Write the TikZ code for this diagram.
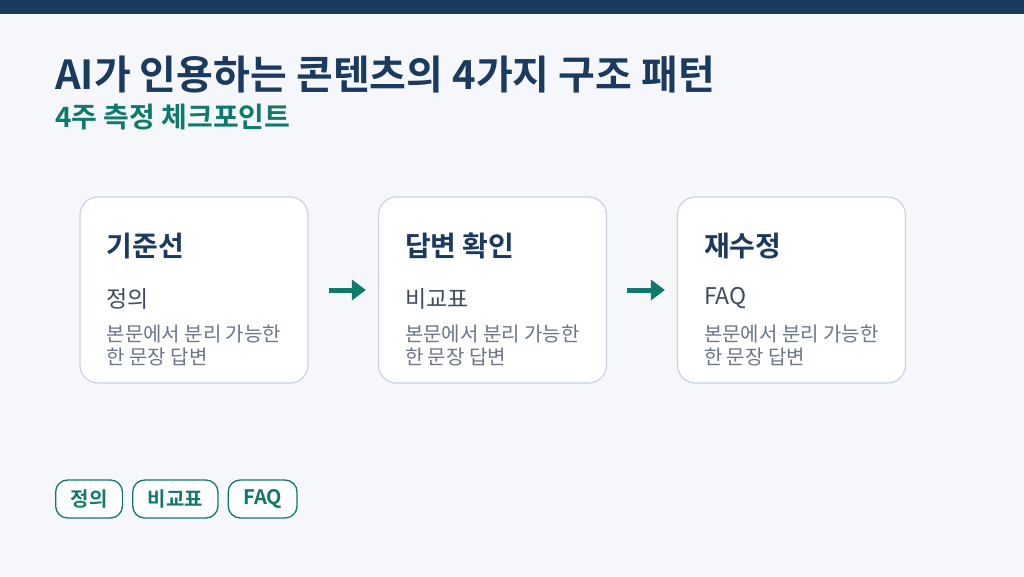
\documentclass[tikz,border=0pt]{standalone}
\usepackage{fontspec}
\setmainfont{Noto Sans CJK KR}[BoldFont={Noto Sans CJK KR Bold}]
\usetikzlibrary{arrows.meta,positioning}
\definecolor{navy}{HTML}{1B3A5F}
\definecolor{bgc}{HTML}{F5F7FB}
\definecolor{edge}{HTML}{C9D3E3}
\definecolor{teal1}{HTML}{0F7A6C}
\definecolor{ink}{HTML}{3F4B5E}
\definecolor{soft}{HTML}{6B7689}

\begin{document}
\begin{tikzpicture}[
    x=1pt, y=-1pt,
    card/.style={
        rectangle,
        draw=edge,
        fill=white,
        rounded corners=18pt,
        minimum width=228pt,
        minimum height=186pt,
        line width=1.2pt
    },
    cardtitle/.style={anchor=west, font=\fontsize{28}{32}\selectfont\bfseries, text=navy, inner sep=0pt},
    cardsub/.style={anchor=west, font=\fontsize{23}{26}\selectfont, text=ink, inner sep=0pt},
    carddesc/.style={anchor=north west, font=\fontsize{20}{23}\selectfont, text=soft, inner sep=0pt, align=left},
    tag/.style={
        rectangle,
        draw=teal1,
        fill=white,
        rounded corners=12pt,
        minimum height=38pt,
        inner xsep=15pt,
        line width=1.3pt,
        font=\fontsize{20}{22}\selectfont\bfseries,
        text=teal1
    },
    arrow/.style={-{Triangle[length=14pt,width=20pt]}, draw=teal1, line width=5pt}
]

    % --- BACKGROUND ---
    \fill[bgc] (0,0) rectangle (1024,576);
    \fill[navy] (0,0) rectangle (1024,14);
    \useasboundingbox (0,0) rectangle (1024,576);

    % --- HEADINGS ---
    \node[anchor=west, inner sep=0pt, font=\fontsize{40}{44}\selectfont\bfseries, text=navy] (title) at (55,75) {AI가 인용하는 콘텐츠의 4가지 구조 패턴};
    \node[anchor=west, inner sep=0pt, font=\fontsize{28}{32}\selectfont\bfseries, text=teal1] (subtitle) at (55,117) {4주 측정 체크포인트};

    % --- CARDS ---
    \node[card] (base) at (194,290) {};
    \node[card] (check) at (492.5,290) {};
    \node[card] (redo) at (791.5,290) {};

    \foreach \n/\t/\s in {base/기준선/정의, check/답변 확인/비교표, redo/재수정/FAQ} {
        \node[cardtitle] (\n-t) at ([xshift=27pt,yshift=-50pt]\n.north west) {\t};
        \node[cardsub] (\n-s) at ([xshift=27pt,yshift=-102pt]\n.north west) {\s};
        \node[carddesc] (\n-d) at ([xshift=27pt,yshift=-128pt]\n.north west) {본문에서 분리 가능한\\한 문장 답변};
    }

    % --- CONNECTIONS ---
    \draw[arrow, shorten <=20pt, shorten >=12pt] (base.east) -- (check.west);
    \draw[arrow, shorten <=20pt, shorten >=12pt] (check.east) -- (redo.west);

    % --- TAGS ---
    \node[tag, anchor=west] (tag1) at (55,499) {정의};
    \node[tag, right=9pt of tag1] (tag2) {비교표};
    \node[tag, right=9pt of tag2] (tag3) {FAQ};

\end{tikzpicture}
\end{document}
